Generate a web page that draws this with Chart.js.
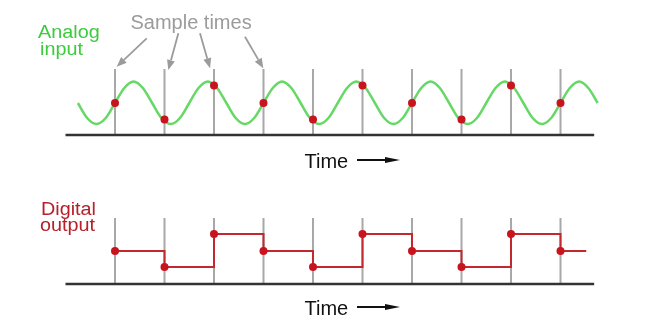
<!DOCTYPE html>
<html>
<head>
<meta charset="utf-8">
<script src="https://cdn.jsdelivr.net/npm/chart.js@4.4.1/dist/chart.umd.min.js"></script>
<style>
  html, body { margin: 0; padding: 0; background: #ffffff; }
  #wrap { position: relative; width: 646px; height: 335px; overflow: hidden; background: #fff; }
  canvas { position: absolute; left: 0; }
  .txt { position: absolute; white-space: nowrap; font-family: "Liberation Sans", Arial, sans-serif; }
  .big { font-size: 20px; line-height: 20px; }
  .lab { font-size: 18px; line-height: 18px; transform: scaleX(1.1); transform-origin: 0 0; }
  .arrLine { position: absolute; height: 2px; background: #111; }
  .arrHead { position: absolute; width: 0; height: 0; border-left: 15px solid #111; border-top: 3.5px solid transparent; border-bottom: 3.5px solid transparent; }
</style>
</head>
<body>
<div id="wrap">
  <canvas id="top" width="646" height="170" style="top:0"></canvas>
  <canvas id="bot" width="646" height="165" style="top:170px"></canvas>

  <div class="txt big" style="left:130.5px; top:12px; color:#9b9b9b;">Sample times</div>
  <div class="txt lab" style="left:38px; top:23.3px; color:#3ccb3c;">Analog</div>
  <div class="txt lab" style="left:39.5px; top:39.8px; color:#3ccb3c;">input</div>
  <div class="txt lab" style="left:40.6px; top:200.3px; color:#b5202a;">Digital</div>
  <div class="txt lab" style="left:40px; top:216.3px; color:#b5202a;">output</div>

  <div class="txt big" style="left:304.5px; top:151.4px; color:#111;">Time</div>
  <div class="arrLine" style="left:357px; top:159px; width:30px;"></div>
  <div class="arrHead" style="left:385px; top:156.5px;"></div>

  <div class="txt big" style="left:304.5px; top:297.8px; color:#111;">Time</div>
  <div class="arrLine" style="left:357px; top:306px; width:30px;"></div>
  <div class="arrHead" style="left:385px; top:303.5px;"></div>
</div>

<script>
// ---------------- DATA ----------------
// sample instants (time units)
const sampleT = [1, 2, 3, 4, 5, 6, 7, 8, 9, 10];
// analog value read at each sample instant
const sampleAnalog = [32, 15.5, 49.5, 32, 15.5, 49.5, 32, 15.5, 49.5, 32];
// digital output level held after each sample
const digitalLevels = [33, 17, 50, 33, 17, 50, 33, 17, 50, 33];
// time where the held output trace ends
const digitalEndT = 10.52;

// analog input waveform (time, value)
const curveT = [0.25, 0.4375, 0.625, 0.8125, 1.0, 1.1875, 1.375, 1.5625,
                1.75, 1.9375, 2.125, 2.3125, 2.5, 2.6875, 2.875, 3.0625,
                3.25, 3.4375, 3.625, 3.8125, 4.0, 4.1875, 4.375, 4.5625,
                4.75, 4.9375, 5.125, 5.3125, 5.5, 5.6875, 5.875, 6.0625,
                6.25, 6.4375, 6.625, 6.8125, 7.0, 7.1875, 7.375, 7.5625,
                7.75, 7.9375, 8.125, 8.3125, 8.5, 8.6875, 8.875, 9.0625,
                9.25, 9.4375, 9.625, 9.8125, 10.0, 10.1875, 10.375, 10.5625,
                10.75];
const curveV = [32, 17, 11, 17, 32, 47, 53.5, 47,
                32, 17, 11, 17, 32, 47, 53.5, 47,
                32, 17, 11, 17, 32, 47, 53.5, 47,
                32, 17, 11, 17, 32, 47, 53.5, 47,
                32, 17, 11, 17, 32, 47, 53.5, 47,
                32, 17, 11, 17, 32, 47, 53.5, 47,
                32, 17, 11, 17, 32, 47, 53.5, 47,
                32];

// axis extents
const axisStartT = 0;
const axisEndT = 10.68;
const sampleLineTop = 66;

// callout arrows from "Sample times" label (time, value) -> (time, value)
const arrowFrom = [[1.64, 96.7], [2.28, 101.7], [2.717, 101.7], [3.626, 98.3]];
const arrowTo   = [[1.034, 68.3], [2.077, 65.0], [2.92, 66.7], [3.996, 66.7]];

// ---------------- HELPERS ----------------
function sampleLines() {
  const d = [];
  sampleT.forEach(t => {
    d.push({x: t, y: 0});
    d.push({x: t, y: sampleLineTop});
    d.push({x: t, y: null});
  });
  return d;
}
const baselineData = [{x: axisStartT, y: 0}, {x: axisEndT, y: 0}];

function commonOptions(padTop, padBottom) {
  return {
    responsive: false,
    animation: false,
    devicePixelRatio: 1,
    events: [],
    layout: { padding: { left: 65.5, right: 45.9, top: padTop, bottom: padBottom } },
    plugins: { legend: { display: false }, tooltip: { enabled: false } },
    scales: {
      x: { type: 'linear', min: 0, max: 10.8, display: false },
      y: { type: 'linear', min: 0, max: 66, display: false }
    },
    elements: { point: { radius: 0 } }
  };
}

const arrowPlugin = {
  id: 'sampleArrows',
  afterDatasetsDraw(chart) {
    const ctx = chart.ctx, xs = chart.scales.x, ys = chart.scales.y;
    ctx.save();
    ctx.strokeStyle = '#9b9b9b';
    ctx.fillStyle = '#9b9b9b';
    ctx.lineWidth = 1.8;
    for (let i = 0; i < arrowFrom.length; i++) {
      const x0 = xs.getPixelForValue(arrowFrom[i][0]), y0 = ys.getPixelForValue(arrowFrom[i][1]);
      const x1 = xs.getPixelForValue(arrowTo[i][0]), y1 = ys.getPixelForValue(arrowTo[i][1]);
      const ang = Math.atan2(y1 - y0, x1 - x0);
      const L = 10, W = 4;
      const bx = x1 - L * Math.cos(ang), by = y1 - L * Math.sin(ang);
      ctx.beginPath();
      ctx.moveTo(x0, y0);
      ctx.lineTo(bx, by);
      ctx.stroke();
      ctx.beginPath();
      ctx.moveTo(x1, y1);
      ctx.lineTo(bx + W * Math.sin(ang), by - W * Math.cos(ang));
      ctx.lineTo(bx - W * Math.sin(ang), by + W * Math.cos(ang));
      ctx.closePath();
      ctx.fill();
    }
    ctx.restore();
  }
};

// ---------------- TOP: analog ----------------
new Chart(document.getElementById('top'), {
  type: 'line',
  data: {
    datasets: [
      { data: sampleT.map((t, i) => ({x: t, y: sampleAnalog[i]})), showLine: false,
        pointRadius: 4, pointBackgroundColor: '#c8141e', pointBorderWidth: 0, order: 0, clip: false },
      { data: curveT.map((t, i) => ({x: t, y: curveV[i]})), borderColor: '#66d866', borderWidth: 2.5,
        cubicInterpolationMode: 'monotone', fill: false, order: 1, clip: false },
      { data: baselineData, borderColor: '#333333', borderWidth: 2.5, order: 2, clip: false },
      { data: sampleLines(), borderColor: '#a8a8a8', borderWidth: 2, spanGaps: false, order: 3, clip: false }
    ]
  },
  options: commonOptions(69, 35),
  plugins: [arrowPlugin]
});

// ---------------- BOTTOM: digital ----------------
const stepData = sampleT.map((t, i) => ({x: t, y: digitalLevels[i]}));
stepData.push({x: digitalEndT, y: digitalLevels[digitalLevels.length - 1]});

new Chart(document.getElementById('bot'), {
  type: 'line',
  data: {
    datasets: [
      { data: sampleT.map((t, i) => ({x: t, y: digitalLevels[i]})), showLine: false,
        pointRadius: 4, pointBackgroundColor: '#c8141e', pointBorderWidth: 0, order: 0, clip: false },
      { data: stepData, borderColor: '#c2282e', borderWidth: 2, stepped: 'before', fill: false, order: 1, clip: false },
      { data: baselineData, borderColor: '#333333', borderWidth: 2.5, order: 2, clip: false },
      { data: sampleLines(), borderColor: '#a8a8a8', borderWidth: 2, spanGaps: false, order: 3, clip: false }
    ]
  },
  options: commonOptions(48, 51)
});
</script>
</body>
</html>
